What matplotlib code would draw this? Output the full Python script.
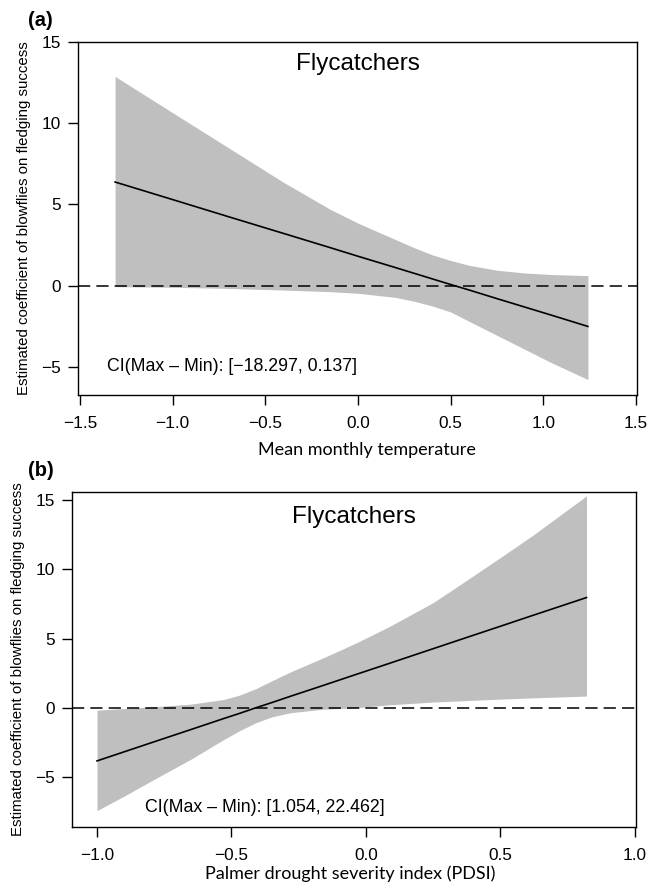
import matplotlib
matplotlib.use("Agg")
import matplotlib.pyplot as plt

plt.rcParams["font.family"] = ["Liberation Sans", "DejaVu Sans"]

# panel (a): blowfly effect vs mean monthly temperature
temp_x = [-1.31, -1.0, -0.7, -0.4, -0.15, 0.0, 0.2, 0.3, 0.4, 0.5, 0.6, 0.75, 0.9, 1.05, 1.24]
temp_est = [6.38, 5.30, 4.25, 3.21, 2.34, 1.81, 1.12, 0.77, 0.42, 0.07, -0.27, -0.80, -1.32, -1.84, -2.51]
temp_upper = [12.88, 10.65, 8.5, 6.35, 4.7, 3.85, 2.85, 2.35, 1.9, 1.55, 1.25, 0.95, 0.78, 0.68, 0.62]
temp_lower = [-0.06, -0.1, -0.17, -0.27, -0.37, -0.47, -0.72, -0.95, -1.25, -1.62, -2.2, -3.06, -3.92, -4.78, -5.78]

# panel (b): blowfly effect vs PDSI
pdsi_x = [-1.0, -0.9, -0.78, -0.65, -0.53, -0.47, -0.41, -0.35, -0.28, -0.16, -0.04, 0.09, 0.25, 0.37, 0.5, 0.62, 0.82]
pdsi_est = [-3.83, -3.18, -2.40, -1.56, -0.78, -0.40, 0.0, 0.38, 0.84, 1.61, 2.39, 3.23, 4.27, 5.05, 5.89, 6.67, 7.96]
pdsi_upper = [-0.17, -0.05, 0.09, 0.27, 0.6, 0.92, 1.38, 1.95, 2.6, 3.6, 4.65, 5.9, 7.6, 9.15, 10.85, 12.45, 15.3]
pdsi_lower = [-7.42, -6.38, -5.08, -3.7, -2.3, -1.65, -1.08, -0.65, -0.35, -0.1, 0.0, 0.22, 0.42, 0.52, 0.63, 0.72, 0.85]

ylab = "Estimated coefficient of blowflies on fledging success"
panels = [
    dict(x=temp_x, est=temp_est, up=temp_upper, lo=temp_lower,
         rect=[0.1182, 0.5542, 0.847, 0.3984], xlim=(-1.51, 1.505), ylim=(-6.73, 15.0),
         xticks=[-1.5, -1.0, -0.5, 0.0, 0.5, 1.0, 1.5],
         xlabel="Mean monthly temperature", xlab_pos=(0.517, -0.156),
         ylab_x=-0.0966, title_y=0.938,
         ci="CI(Max \u2013 Min): [\u221218.297, 0.137]", ci_pos=(0.052, -5.0),
         tag="(a)", tag_y=1 - 20 / 886),
    dict(x=pdsi_x, est=pdsi_est, up=pdsi_upper, lo=pdsi_lower,
         rect=[0.1091, 0.0666, 0.8545, 0.3781], xlim=(-1.093, 1.004), ylim=(-8.6, 15.58),
         xticks=[-1.0, -0.5, 0.0, 0.5, 1.0],
         xlabel="Palmer drought severity index (PDSI)", xlab_pos=(0.494, -0.14),
         ylab_x=-0.0949, title_y=0.925,
         ci="CI(Max \u2013 Min): [1.054, 22.462]", ci_pos=(0.129, -7.2),
         tag="(b)", tag_y=1 - 470 / 886),
]

fig = plt.figure(figsize=(6.6, 8.86), dpi=100)

for p in panels:
    ax = fig.add_axes(p["rect"])
    ax.fill_between(p["x"], p["lo"], p["up"], color="#bfbfbf", lw=0)
    ax.plot(p["x"], p["est"], color="black", lw=1.2)
    ax.axhline(0, color="black", lw=1.1, ls=(0, (8, 4)))
    ax.set_xlim(*p["xlim"])
    ax.set_ylim(*p["ylim"])
    ax.set_xticks(p["xticks"])
    ax.set_yticks([-5, 0, 5, 10, 15])
    ax.tick_params(labelsize=12.4, length=7, width=1)
    ax.tick_params(axis="x", pad=8)
    ax.tick_params(axis="y", pad=5)
    for s in ax.spines.values():
        s.set_linewidth(1)

    ax.set_xlabel(p["xlabel"], fontsize=13, family=["Lato", "DejaVu Sans"])
    ax.xaxis.set_label_coords(*p["xlab_pos"])
    ax.xaxis.label.set_va("center")
    ax.set_ylabel(ylab, fontsize=10.8)
    ax.yaxis.set_label_coords(p["ylab_x"], 0.5)
    ax.yaxis.label.set_va("center")

    ax.text(0.5, p["title_y"], "Flycatchers", transform=ax.transAxes,
            ha="center", va="center", fontsize=17.5)
    ax.text(p["ci_pos"][0], p["ci_pos"][1], p["ci"], transform=ax.get_yaxis_transform(),
            ha="left", va="center", fontsize=12.8)
    fig.text(28 / 660, p["tag_y"], p["tag"], ha="left", va="center",
             fontsize=14.5, fontweight="bold")

fig.savefig("out.png", dpi=100)
